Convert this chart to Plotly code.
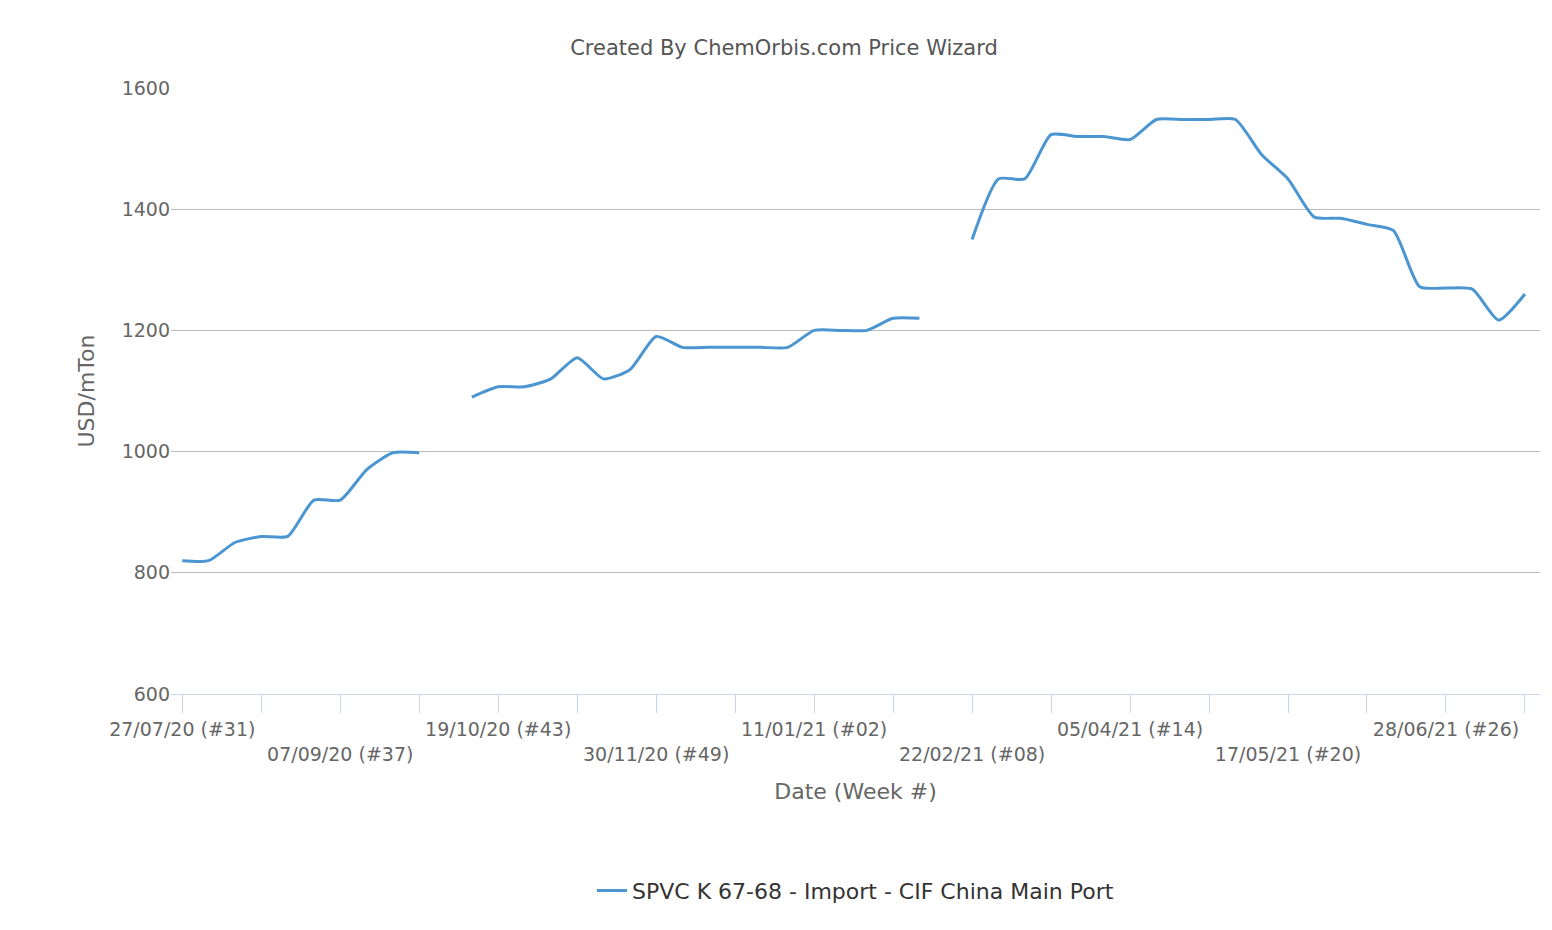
import datetime as dt
import plotly.graph_objects as go

start = dt.date(2020, 7, 27)
dates = [start + dt.timedelta(weeks=i) for i in range(52)]

prices = [820, 820, 850, 860, 860, 920, 920, 970, 998, 998,
          None, 1090, 1107, 1107, 1120, 1155, 1120, 1135, 1190, 1172,
          1172, 1172, 1172, 1172, 1200, 1200, 1200, 1220, 1220, None,
          1350, 1450, 1450, 1523, 1520, 1520, 1515, 1548, 1548, 1548,
          1548, 1490, 1450, 1387, 1385, 1375, 1365, 1272, 1270, 1268,
          1217, 1260]

# ticks every 3 weeks, labels every 6 weeks on two staggered rows
tick_dates = dates[::3]
tick_text = []
for k, d in enumerate(tick_dates):
    if k % 2 == 1:
        tick_text.append("")
        continue
    lab = f"{d:%d/%m/%y} (#{d.isocalendar()[1]:02d})"
    tick_text.append(lab if (k // 2) % 2 == 0 else "<br>" + lab)

fig = go.Figure()
fig.add_trace(go.Scatter(
    x=dates, y=prices, mode="lines", connectgaps=False,
    line=dict(color="#4b96d1", width=3, shape="spline", smoothing=0.6),
    name="SPVC K 67-68 - Import - CIF China Main Port",
))

fig.update_layout(
    width=1552, height=930,
    paper_bgcolor="white", plot_bgcolor="white",
    font=dict(family="DejaVu Sans", size=19, color="#666666"),
    title=dict(text="Created By ChemOrbis.com Price Wizard", x=0.5, y=0.965,
               xanchor="center", font=dict(size=21, color="#555555")),
    margin=dict(l=163, r=20, t=80, b=244),
    showlegend=True,
    legend=dict(orientation="h", x=0.5, xanchor="center", y=-0.29,
                font=dict(size=22, color="#333333")),
)
fig.update_xaxes(
    tickvals=tick_dates, ticktext=tick_text, tickangle=0,
    range=[start - dt.timedelta(days=3), dates[-1] + dt.timedelta(days=4)],
    showgrid=False, showline=True, linecolor="#ccd6eb", linewidth=1,
    ticks="outside", ticklen=18, tickcolor="#ccd6eb",
    title=dict(text="Date (Week #)", font=dict(size=22, color="#666666"), standoff=20),
)
fig.update_yaxes(
    range=[600, 1600], dtick=200, showgrid=True, gridcolor="#bbbbbb",
    zeroline=False, showline=False,
    title=dict(text="USD/mTon", font=dict(size=22, color="#666666"), standoff=20),
)

fig.write_html("out.html")
